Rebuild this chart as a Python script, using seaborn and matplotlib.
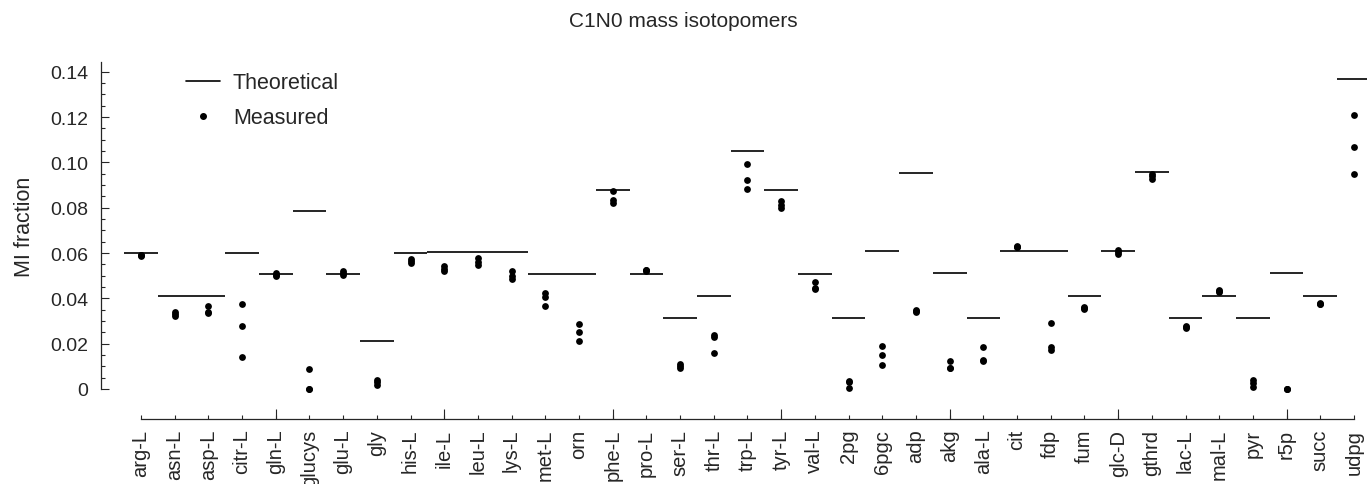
import numpy as np
import pandas as pd
import matplotlib
matplotlib.use("Agg")
import matplotlib.pyplot as plt
import seaborn as sns
from matplotlib.ticker import FixedLocator
from matplotlib.lines import Line2D

metabolites = ["arg-L", "asn-L", "asp-L", "citr-L", "gln-L", "glucys", "glu-L", "gly",
               "his-L", "ile-L", "leu-L", "lys-L", "met-L", "orn", "phe-L", "pro-L",
               "ser-L", "thr-L", "trp-L", "tyr-L", "val-L", "2pg", "6pgc", "adp", "akg",
               "ala-L", "cit", "fdp", "fum", "glc-D", "gthrd", "lac-L", "mal-L", "pyr",
               "r5p", "succ", "udpg"]

theoretical = [0.0600, 0.0410, 0.0410, 0.0600, 0.0507, 0.0787, 0.0509, 0.0210,
               0.0600, 0.0606, 0.0606, 0.0603, 0.0509, 0.0506, 0.0880, 0.0509,
               0.0312, 0.0412, 0.1049, 0.0880, 0.0509, 0.0315, 0.0608, 0.0953, 0.0512,
               0.0312, 0.0608, 0.0608, 0.0412, 0.0608, 0.0959, 0.0315, 0.0412, 0.0315,
               0.0512, 0.0412, 0.1369]

# three measured replicates per metabolite
rep1 = [0.0593, 0.0340, 0.0365, 0.0375, 0.0512, 0.0087, 0.0522, 0.0040,
        0.0574, 0.0544, 0.0577, 0.0520, 0.0422, 0.0285, 0.0874, 0.0525,
        0.0112, 0.0240, 0.0994, 0.0831, 0.0474, 0.0037, 0.0190, 0.0348, 0.0122,
        0.0186, 0.0630, 0.0291, 0.0360, 0.0613, 0.0947, 0.0278, 0.0435, 0.0040,
        0.0000, 0.0380, 0.1208]
rep2 = [0.0591, 0.0332, 0.0340, 0.0278, 0.0505, 0.0000, 0.0512, 0.0030,
        0.0563, 0.0530, 0.0560, 0.0500, 0.0404, 0.0250, 0.0835, 0.0523,
        0.0102, 0.0228, 0.0922, 0.0814, 0.0446, 0.0030, 0.0149, 0.0344, 0.0094,
        0.0127, 0.0627, 0.0185, 0.0357, 0.0605, 0.0938, 0.0274, 0.0432, 0.0025,
        0.0000, 0.0377, 0.1069]
rep3 = [0.0589, 0.0322, 0.0335, 0.0140, 0.0498, 0.0000, 0.0505, 0.0016,
        0.0556, 0.0520, 0.0548, 0.0487, 0.0368, 0.0210, 0.0820, 0.0521,
        0.0092, 0.0158, 0.0883, 0.0798, 0.0440, 0.0003, 0.0105, 0.0340, 0.0092,
        0.0125, 0.0625, 0.0173, 0.0354, 0.0597, 0.0928, 0.0270, 0.0430, 0.0008,
        0.0000, 0.0375, 0.0949]

pos = np.arange(1, len(metabolites) + 1)
measured = pd.DataFrame({
    "pos": np.tile(pos, 3),
    "value": rep1 + rep2 + rep3,
})

sns.set_style("ticks")
plt.rcParams["font.family"] = ["Liberation Sans", "DejaVu Sans"]
plt.rcParams["text.color"] = "#262626"

fig = plt.figure(figsize=(13.67, 4.85), dpi=100)
ax = fig.add_axes([0.1031, 0.1959, 0.8874, 0.6742])

ax.hlines(theoretical, pos - 0.5, pos + 0.5, color="black", lw=1.2, clip_on=False)
sns.scatterplot(data=measured, x="pos", y="value", color="black", s=24,
                linewidth=0, ax=ax, legend=False, clip_on=False, zorder=3)

ax.set_xlim(1, 37)
ax.set_ylim(0, 0.1443)

ax.xaxis.set_major_locator(FixedLocator(pos))
ax.set_xticklabels(metabolites)
ax.xaxis.set_minor_locator(FixedLocator(np.arange(5, 37, 5)))
ax.xaxis.remove_overlapping_locs = False

yt = np.arange(0, 0.141, 0.02)
ax.set_yticks(yt)
ax.set_yticklabels(["0"] + [f"{v:.2f}" for v in yt[1:]])
ax.yaxis.set_minor_locator(FixedLocator(np.arange(0, 0.1443, 0.005)))

ax.tick_params(axis="x", which="major", direction="in", length=3.0, width=0.8, pad=7,
               labelsize=14.5, labelrotation=90, labelcolor="#262626")
ax.tick_params(axis="x", which="minor", direction="in", length=7.0, width=0.8)
ax.tick_params(axis="y", which="major", direction="in", length=6, width=0.8, pad=9,
               labelsize=14, labelcolor="#262626")
ax.tick_params(axis="y", which="minor", direction="in", length=3, width=0.8)

sns.despine(ax=ax, offset={"left": 28.8, "bottom": 21.6})
ax.spines["bottom"].set_bounds(1, 37)
ax.spines["left"].set_bounds(0, 0.1443)
for s in ["left", "bottom"]:
    ax.spines[s].set_linewidth(0.9)
    ax.spines[s].set_color("#262626")

ax.set_xlabel("")
ax.set_ylabel("MI fraction", fontsize=15.5, labelpad=11)

handles = [Line2D([], [], color="black", lw=1.2),
           Line2D([], [], color="black", marker="o", ls="none", markersize=4)]
fig.legend(handles, ["Theoretical", "Measured"], loc="upper left",
           bbox_to_anchor=(0.136, 0.849), frameon=False, fontsize=15.5,
           handlelength=1.58, handletextpad=0.6, labelspacing=0.65,
           borderpad=0, borderaxespad=0)

fig.suptitle("C1N0 mass isotopomers", x=0.5, y=0.975, fontsize=15)

fig.savefig("out.png", dpi=100)
